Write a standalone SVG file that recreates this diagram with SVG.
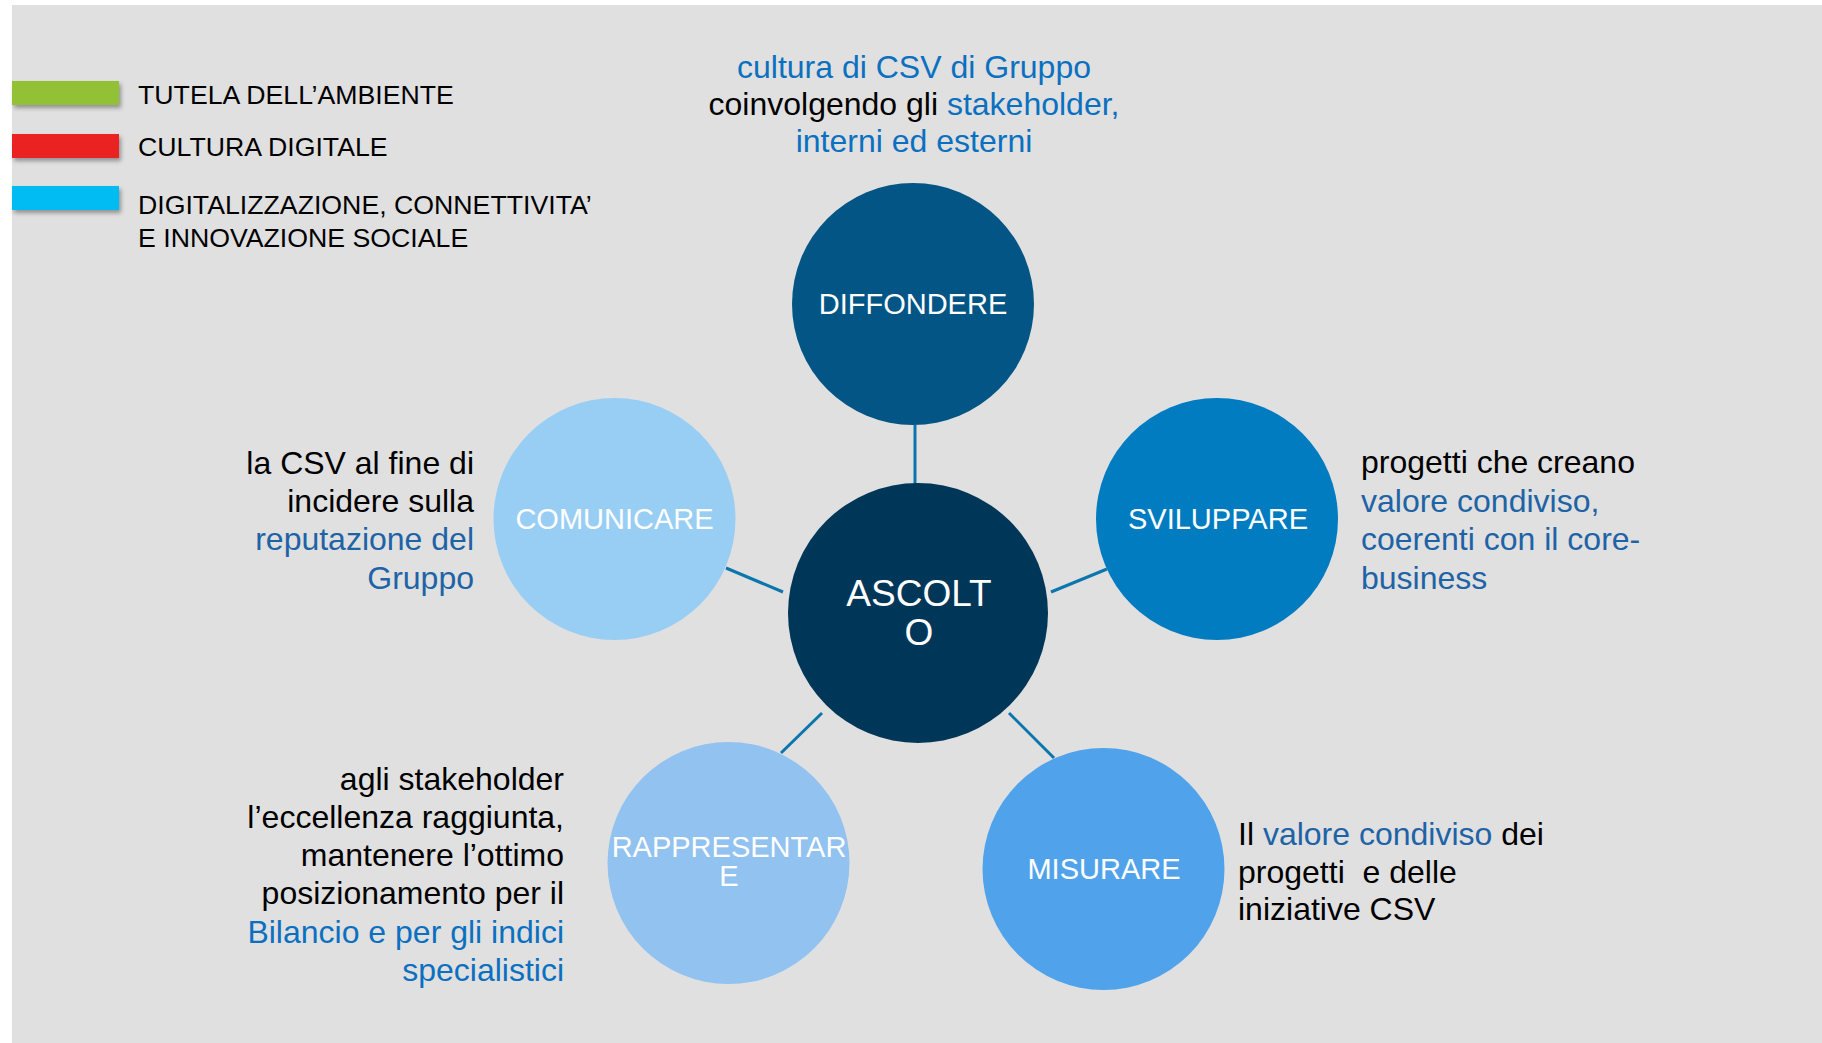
<svg xmlns="http://www.w3.org/2000/svg" width="1822" height="1043" viewBox="0 0 1822 1043">
  <style>
    text { font-family: "Liberation Sans", Arial, sans-serif; }
    .lg { font-size: 26.7px; fill: #000; }
    .lbl { font-size: 29px; fill: #fff; text-anchor: middle; }
    .side { font-size: 32px; fill: #000; }
    .b1 { fill: #0B70C0; }
    .b2 { fill: #1E63A6; }
    .conn { stroke: #0B76AE; stroke-width: 3; fill: none; }
  </style>
  <defs>
    <filter id="sh" x="-10%" y="-30%" width="130%" height="180%">
      <feDropShadow dx="2" dy="3" stdDeviation="2" flood-color="#000" flood-opacity="0.35"/>
    </filter>
  </defs>
  <rect x="0" y="0" width="1822" height="1043" fill="#ffffff"/>
  <rect x="12" y="5" width="1810" height="1038" fill="#E0E0E0"/>

  <g id="legend">
    <rect x="12" y="81" width="107" height="24" fill="#92C134" filter="url(#sh)"/>
    <rect x="12" y="134" width="107" height="24" fill="#EB2224" filter="url(#sh)"/>
    <rect x="12" y="186" width="107" height="24" fill="#00BCF2" filter="url(#sh)"/>
    <text class="lg" x="138" y="104">TUTELA DELL’AMBIENTE</text>
    <text class="lg" x="138" y="156">CULTURA DIGITALE</text>
    <text class="lg" x="138" y="214">DIGITALIZZAZIONE, CONNETTIVITA’</text>
    <text class="lg" x="138" y="247">E INNOVAZIONE SOCIALE</text>
  </g>

  <g id="connectors">
    <line class="conn" x1="915" y1="425" x2="915" y2="485"/>
    <line class="conn" x1="726" y1="568" x2="783" y2="592"/>
    <line class="conn" x1="1051" y1="592" x2="1107" y2="569"/>
    <line class="conn" x1="781" y1="753" x2="822" y2="713"/>
    <line class="conn" x1="1009" y1="713" x2="1054" y2="758"/>
  </g>

  <g id="diffondere">
    <circle cx="913" cy="304" r="121" fill="#025584"/>
    <text class="lbl" x="913" y="314">DIFFONDERE</text>
  </g>
  <g id="comunicare">
    <circle cx="614.5" cy="519" r="121" fill="#99CEF4"/>
    <text class="lbl" x="614.5" y="529">COMUNICARE</text>
  </g>
  <g id="sviluppare">
    <circle cx="1217" cy="519" r="121" fill="#027CC0"/>
    <text class="lbl" x="1218" y="529">SVILUPPARE</text>
  </g>
  <g id="ascolto">
    <circle cx="918" cy="613" r="130" fill="#003658"/>
    <text class="lbl" style="font-size:37px" x="919" y="606">ASCOLT</text>
    <text class="lbl" style="font-size:37px" x="919" y="645">O</text>
  </g>
  <g id="rappresentare">
    <circle cx="728.5" cy="863" r="121" fill="#92C2F0"/>
    <text class="lbl" x="729" y="857">RAPPRESENTAR</text>
    <text class="lbl" x="729" y="886">E</text>
  </g>
  <g id="misurare">
    <circle cx="1103.5" cy="869" r="121" fill="#50A3EA"/>
    <text class="lbl" x="1104" y="879">MISURARE</text>
  </g>

  <g id="text-top">
    <text class="side" text-anchor="middle" x="914" y="78"><tspan class="b1">cultura di CSV di Gruppo</tspan></text>
    <text class="side" text-anchor="middle" x="914" y="115">coinvolgendo gli <tspan class="b1">stakeholder,</tspan></text>
    <text class="side b1" text-anchor="middle" x="914" y="152">interni ed esterni</text>
  </g>

  <g id="text-left">
    <text class="side" text-anchor="end" x="474" y="474">la CSV al fine di</text>
    <text class="side" text-anchor="end" x="474" y="512">incidere sulla</text>
    <text class="side b2" text-anchor="end" x="474" y="550">reputazione del</text>
    <text class="side b2" text-anchor="end" x="474" y="589">Gruppo</text>
  </g>

  <g id="text-right">
    <text class="side" x="1361" y="473">progetti che creano</text>
    <text class="side b2" x="1361" y="512">valore condiviso,</text>
    <text class="side b2" x="1361" y="550">coerenti con il core-</text>
    <text class="side b2" x="1361" y="589">business</text>
  </g>

  <g id="text-bottom-left">
    <text class="side" text-anchor="end" x="564" y="790">agli stakeholder</text>
    <text class="side" text-anchor="end" x="564" y="828">l’eccellenza raggiunta,</text>
    <text class="side" text-anchor="end" x="564" y="866">mantenere l’ottimo</text>
    <text class="side" text-anchor="end" x="564" y="904">posizionamento per il</text>
    <text class="side b1" text-anchor="end" x="564" y="943">Bilancio e per gli indici</text>
    <text class="side b1" text-anchor="end" x="564" y="981">specialistici</text>
  </g>

  <g id="text-bottom-right">
    <text class="side" x="1238" y="845">Il <tspan class="b2">valore condiviso</tspan> dei</text>
    <text class="side" x="1238" y="883" xml:space="preserve">progetti  e delle</text>
    <text class="side" x="1238" y="920">iniziative CSV</text>
  </g>
</svg>
